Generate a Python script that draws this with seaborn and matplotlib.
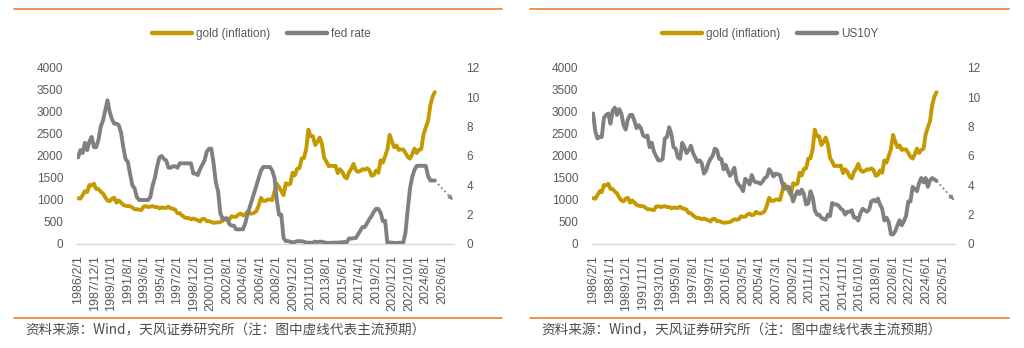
import numpy as np
import pandas as pd
import matplotlib
matplotlib.use("Agg")
import matplotlib.pyplot as plt
from matplotlib.lines import Line2D
import seaborn as sns

# ---------------------------------------------------------------------------
# Data: quarterly observations (Feb / May / Aug / Nov), 1986-02 .. 2025-08
# ---------------------------------------------------------------------------
quarter_dates = pd.date_range("1986-02-01", "2025-08-01", freq="3MS")

# inflation-adjusted gold price, USD/oz
gold_real = [
    1040, 1030, 1110, 1200,   # 1986
    1180, 1340, 1330, 1370,   # 1987
    1250, 1250, 1190, 1150,   # 1988
    1060, 990, 970, 1030,     # 1989
    1050, 940, 990, 940,      # 1990
    890, 870, 860, 860,       # 1991
    830, 790, 790, 780,       # 1992
    770, 850, 860, 840,       # 1993
    850, 860, 840, 840,       # 1994
    810, 830, 820, 820,       # 1995
    850, 810, 800, 780,       # 1996
    700, 700, 650, 610,       # 1997
    590, 590, 560, 580,       # 1998
    560, 540, 510, 570,       # 1999
    570, 520, 520, 500,       # 2000
    480, 490, 490, 500,       # 2001
    530, 560, 550, 560,       # 2002
    630, 620, 620, 670,       # 2003
    690, 650, 670, 730,       # 2004
    700, 690, 710, 750,       # 2005
    880, 1050, 980, 980,      # 2006
    1010, 1010, 1000, 1200,   # 2007
    1370, 1290, 1200, 1110,   # 2008
    1380, 1350, 1370, 1620,   # 2009
    1560, 1710, 1720, 1940,   # 2010
    1950, 2150, 2600, 2450,   # 2011
    2450, 2250, 2320, 2420,   # 2012
    2270, 1960, 1870, 1770,   # 2013
    1780, 1770, 1780, 1610,   # 2014
    1700, 1640, 1530, 1490,   # 2015
    1630, 1710, 1820, 1680,   # 2016
    1640, 1660, 1700, 1690,   # 2017
    1720, 1680, 1550, 1570,   # 2018
    1670, 1620, 1900, 1850,   # 2019
    2000, 2150, 2480, 2330,   # 2020
    2200, 2240, 2140, 2150,   # 2021
    2150, 2070, 1980, 1940,   # 2022
    2040, 2170, 2070, 2140,   # 2023
    2160, 2490, 2650, 2790,   # 2024
    3150, 3350, 3450,         # 2025
]

# effective federal funds rate, %
fed_rate = [
    5.9, 6.4, 6.2, 6.9,       # 1986
    6.4, 7.0, 7.3, 6.6,       # 1987
    6.6, 7.1, 8.0, 8.4,       # 1988
    9.1, 9.8, 9.0, 8.5,       # 1989
    8.2, 8.2, 8.1, 7.6,       # 1990
    6.6, 5.8, 5.6, 4.8,       # 1991
    4.0, 3.8, 3.2, 3.0,       # 1992
    3.0, 3.0, 3.0, 3.0,       # 1993
    3.2, 4.0, 4.5, 5.3,       # 1994
    5.9, 6.0, 5.8, 5.7,       # 1995
    5.2, 5.2, 5.3, 5.3,       # 1996
    5.2, 5.5, 5.5, 5.5,       # 1997
    5.5, 5.5, 5.5, 4.8,       # 1998
    4.8, 4.7, 5.1, 5.4,       # 1999
    5.7, 6.3, 6.5, 6.5,       # 2000
    5.5, 4.2, 3.6, 2.1,       # 2001
    1.7, 1.75, 1.75, 1.35,    # 2002
    1.25, 1.25, 1.0, 1.0,     # 2003
    1.0, 1.0, 1.4, 2.0,       # 2004
    2.5, 3.0, 3.5, 4.0,       # 2005
    4.5, 5.0, 5.25, 5.25,     # 2006
    5.25, 5.25, 5.0, 4.5,     # 2007
    3.0, 2.0, 2.0, 0.4,       # 2008
    0.2, 0.2, 0.15, 0.12,     # 2009
    0.13, 0.2, 0.19, 0.19,    # 2010
    0.16, 0.09, 0.1, 0.08,    # 2011
    0.1, 0.16, 0.13, 0.16,    # 2012
    0.15, 0.11, 0.08, 0.08,   # 2013
    0.07, 0.09, 0.09, 0.09,   # 2014
    0.11, 0.12, 0.14, 0.12,   # 2015
    0.38, 0.37, 0.4, 0.41,    # 2016
    0.66, 0.91, 1.16, 1.16,   # 2017
    1.42, 1.7, 1.91, 2.2,     # 2018
    2.4, 2.39, 2.13, 1.55,    # 2019
    1.58, 0.05, 0.1, 0.09,    # 2020
    0.08, 0.06, 0.09, 0.08,   # 2021
    0.08, 0.77, 2.33, 3.78,   # 2022
    4.57, 5.06, 5.33, 5.33,   # 2023
    5.33, 5.33, 5.33, 4.64,   # 2024
    4.33, 4.33, 4.33,         # 2025
]

# US 10-year Treasury yield, %
us10y = [
    8.9, 7.7, 7.2, 7.3,       # 1986
    7.3, 8.6, 8.8, 8.9,       # 1987
    8.2, 9.1, 9.3, 8.8,       # 1988
    9.2, 8.9, 8.1, 7.8,       # 1989
    8.5, 8.8, 8.8, 8.4,       # 1990
    7.9, 8.1, 7.9, 7.4,       # 1991
    7.3, 7.4, 6.6, 6.9,       # 1992
    6.3, 6.0, 5.7, 5.7,       # 1993
    5.8, 7.2, 7.3, 7.96,      # 1994
    7.5, 6.6, 6.5, 5.9,       # 1995
    5.8, 6.9, 6.6, 6.2,       # 1996
    6.4, 6.7, 6.2, 5.9,       # 1997
    5.6, 5.7, 5.5, 4.8,       # 1998
    5.0, 5.5, 5.8, 6.0,       # 1999
    6.5, 6.4, 5.8, 5.8,       # 2000
    5.1, 5.4, 4.97, 4.65,     # 2001
    4.9, 5.2, 4.3, 4.05,      # 2002
    3.9, 3.6, 4.45, 4.3,      # 2003
    4.06, 4.7, 4.3, 4.2,      # 2004
    4.2, 4.1, 4.26, 4.5,      # 2005
    4.6, 5.1, 4.9, 4.6,       # 2006
    4.8, 4.75, 4.7, 4.15,     # 2007
    3.75, 3.9, 3.9, 3.5,      # 2008
    2.9, 3.3, 3.6, 3.4,       # 2009
    3.7, 3.4, 2.7, 2.76,      # 2010
    3.6, 3.2, 2.3, 2.0,       # 2011
    2.0, 1.8, 1.7, 1.65,      # 2012
    2.0, 1.9, 2.8, 2.7,       # 2013
    2.7, 2.6, 2.4, 2.3,       # 2014
    2.0, 2.2, 2.2, 2.3,       # 2015
    1.8, 1.8, 1.6, 2.1,       # 2016
    2.4, 2.3, 2.2, 2.35,      # 2017
    2.9, 3.0, 2.9, 3.1,       # 2018
    2.7, 2.4, 1.6, 1.8,       # 2019
    1.5, 0.67, 0.65, 0.87,    # 2020
    1.26, 1.62, 1.28, 1.56,   # 2021
    1.93, 2.9, 2.9, 3.9,      # 2022
    3.75, 3.6, 4.17, 4.5,     # 2023
    4.2, 4.5, 3.9, 4.35,      # 2024
    4.5, 4.4, 4.3,            # 2025
]

# consensus outlook (dotted arrows)
outlook_dates = ["2025-08-01", "2027-08-01"]
fed_outlook = [4.33, 3.0]
us10y_outlook = [4.3, 3.0]

left_tick_labels = [
    "1986/2/1", "1987/12/1", "1989/10/1", "1991/8/1", "1993/6/1", "1995/4/1",
    "1997/2/1", "1998/12/1", "2000/10/1", "2002/8/1", "2004/6/1", "2006/4/1",
    "2008/2/1", "2009/12/1", "2011/10/1", "2013/8/1", "2015/6/1", "2017/4/1",
    "2019/2/1", "2020/12/1", "2022/10/1", "2024/8/1", "2026/6/1",
]
right_tick_labels = [
    "1986/2/1", "1988/1/1", "1989/12/1", "1991/11/1", "1993/10/1", "1995/9/1",
    "1997/8/1", "1999/7/1", "2001/6/1", "2003/5/1", "2005/4/1", "2007/3/1",
    "2009/2/1", "2011/1/1", "2012/12/1", "2014/11/1", "2016/10/1", "2018/9/1",
    "2020/8/1", "2022/7/1", "2024/6/1", "2026/5/1",
]

footer_text = "资料来源：Wind，天风证券研究所（注：图中虚线代表主流预期）"

# ---------------------------------------------------------------------------
# Styling
# ---------------------------------------------------------------------------
GOLD = "#C49A00"
GREY = "#808080"
ORANGE = "#F08A3C"
LABEL = "#595959"
AXIS = "#D9D9D9"

sns.set_theme(style="white")
plt.rcParams["font.family"] = ["Liberation Sans", "DejaVu Sans"]


def month_index(dates):
    d = pd.to_datetime(pd.Series(dates))
    return ((d.dt.year - 1986) * 12 + d.dt.month - 2).to_numpy()


def label_index(labels):
    return month_index([pd.Timestamp(*map(int, s.split("/"))) for s in labels])


q_idx = month_index(quarter_dates)
outlook_idx = month_index(outlook_dates)

fig = plt.figure(figsize=(10.24, 3.48), dpi=100)

W, H = 1024.0, 348.0
panels = [
    dict(rect=[77 / W, 104 / H, 377 / W, 176 / H], rate=fed_rate,
         outlook=fed_outlook, name="fed rate", ticks=left_tick_labels,
         legend_x=261 / W),
    dict(rect=[592 / W, 104 / H, 363 / W, 176 / H], rate=us10y,
         outlook=us10y_outlook, name="US10Y", ticks=right_tick_labels,
         legend_x=770 / W),
]

for p in panels:
    ax = fig.add_axes(p["rect"])
    ax2 = ax.twinx()

    sns.lineplot(x=q_idx, y=gold_real, ax=ax, color=GOLD, lw=2.8,
                 legend=False, solid_joinstyle="round")
    sns.lineplot(x=q_idx, y=p["rate"], ax=ax2, color=GREY, lw=2.8,
                 legend=False, solid_joinstyle="round")

    # dotted outlook with arrow head
    ax2.plot(outlook_idx, p["outlook"], color=GREY, lw=1.3,
             ls=(0, (1, 1.6)))
    x0, x1 = outlook_idx
    y0, y1 = p["outlook"]
    ax2.annotate("", xy=(x1, y1),
                 xytext=(x1 - 0.15 * (x1 - x0), y1 - 0.15 * (y1 - y0)),
                 arrowprops=dict(arrowstyle="-|>", color=GREY, lw=0.8,
                                 mutation_scale=7, shrinkA=0, shrinkB=0))

    ax.set_xlim(-1.5, 499.5)
    ax.set_ylim(0, 4000)
    ax.set_yticks(np.arange(0, 4001, 500))
    ax2.set_ylim(0, 12)
    ax2.set_yticks(np.arange(0, 13, 2))

    ax.set_xticks(label_index(p["ticks"]))
    ax.set_xticklabels(p["ticks"], rotation=90)

    for a in (ax, ax2):
        for s in a.spines.values():
            s.set_visible(False)
        a.set_xlabel("")
        a.set_ylabel("")
        a.grid(False)
    ax.spines["bottom"].set_visible(True)
    ax.spines["bottom"].set_color(AXIS)
    ax.spines["bottom"].set_linewidth(1.0)

    ax.tick_params(axis="x", length=3, width=0.8, color=AXIS, pad=5,
                   labelsize=9, labelcolor=LABEL, direction="out")
    ax.tick_params(axis="y", length=0, pad=10, labelsize=8.5,
                   labelcolor=LABEL)
    ax2.tick_params(axis="y", length=0, pad=9, labelsize=8.5,
                    labelcolor=LABEL)

    handles = [Line2D([], [], color=GOLD, lw=3.2, solid_capstyle="round"),
               Line2D([], [], color=GREY, lw=3.2, solid_capstyle="round")]
    fig.legend(handles, ["gold (inflation)", p["name"]], loc="center",
               bbox_to_anchor=(p["legend_x"], 1 - 34 / H), ncol=2,
               frameon=False, fontsize=8.5, labelcolor=LABEL,
               handlelength=3.4, handletextpad=0.35, columnspacing=1.4)

# frame rules and source notes
for x_left, x_right, x_text in [(14, 502, 25), (530, 1009, 541)]:
    for y in (9.3, 318.3):
        fig.add_artist(Line2D([x_left / W, x_right / W], [1 - y / H, 1 - y / H],
                              color=ORANGE, lw=1.3, transform=fig.transFigure))
    fig.text(x_text / W, 1 - 330 / H, footer_text, ha="left", va="center",
             fontsize=9.8, color="#4D4D4D",
             family=["Noto Sans CJK SC", "DejaVu Sans"])

fig.savefig("out.png", dpi=100)
